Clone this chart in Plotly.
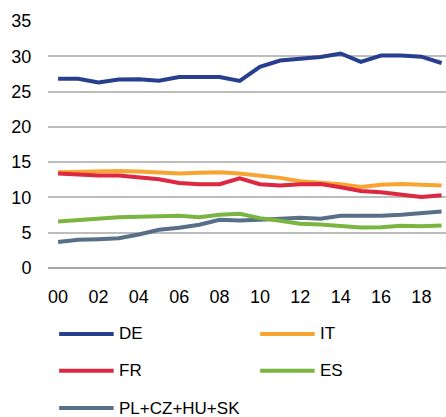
import plotly.graph_objects as go

years = list(range(2000, 2020))
year_labels = [f"{y % 100:02d}" for y in years]
y_ticks = [0, 5, 10, 15, 20, 25, 30, 35]

de = [26.8, 26.8, 26.3, 26.7, 26.75, 26.55, 27.05, 27.05, 27.05, 26.5,
      28.5, 29.4, 29.7, 29.9, 30.4, 29.2, 30.1, 30.1, 29.95, 29.05]
it = [13.57, 13.67, 13.76, 13.76, 13.67, 13.48, 13.38, 13.48, 13.57, 13.38,
      13.1, 12.77, 12.3, 12.15, 11.87, 11.49, 11.8, 11.9, 11.8, 11.68]
fr = [13.38, 13.2, 13.1, 13.1, 12.86, 12.58, 12.05, 11.87, 11.87, 12.72,
      11.87, 11.68, 11.87, 11.9, 11.44, 10.9, 10.73, 10.44, 10.06, 10.3]
es = [6.6, 6.83, 6.98, 7.2, 7.26, 7.4, 7.4, 7.2, 7.55, 7.69,
      7.07, 6.7, 6.26, 6.17, 5.98, 5.74, 5.79, 5.98, 5.9, 6.03]
pl = [3.7, 3.99, 4.08, 4.22, 4.75, 5.41, 5.7, 6.12, 6.83, 6.74,
      6.83, 6.98, 7.12, 6.98, 7.4, 7.4, 7.4, 7.55, 7.78, 8.0]

names = ["DE", "IT", "FR", "ES", "PL+CZ+HU+SK"]
colors = ["#283E8F", "#F7A431", "#DC2841", "#7AB441", "#586F88"]
series = [de, it, fr, es, pl]

FONT = "Liberation Sans, Arial, sans-serif"

fig = go.Figure()

# draw order: PL at bottom, DE on top
for idx in [4, 3, 1, 2, 0]:
    fig.add_trace(go.Scatter(
        x=list(range(len(years))), y=series[idx], mode="lines", name=names[idx],
        line=dict(color=colors[idx], width=4), showlegend=False,
    ))

# legend drawn by hand: two columns, three rows
col_x = [0.028, 0.533]
row_y = [-0.267, -0.416, -0.567]
for i, (name, color) in enumerate(zip(names, colors)):
    cx = col_x[i % 2]
    ry = row_y[i // 2]
    fig.add_shape(type="line", xref="paper", yref="paper",
                  x0=cx, x1=cx + 0.137, y0=ry, y1=ry,
                  line=dict(color=color, width=4))
    fig.add_annotation(xref="paper", yref="paper", x=cx + 0.146, y=ry,
                       text=name, showarrow=False, xanchor="left", yanchor="middle",
                       font=dict(size=17, color="#000000", family=FONT))

fig.update_layout(
    template="none",
    width=446, height=417,
    margin=dict(l=48, r=0, t=21, b=149, autoexpand=False),
    paper_bgcolor="white", plot_bgcolor="white",
    font=dict(family=FONT, size=18, color="#000000"),
    showlegend=False,
    xaxis=dict(
        range=[-0.5, 19.22],
        tickvals=list(range(0, len(years), 2)),
        ticktext=year_labels[::2],
        showgrid=False, zeroline=False, showline=False,
        ticks="outside", ticklen=12, tickcolor="rgba(0,0,0,0)", automargin=False,
    ),
    yaxis=dict(
        range=[0, 35], tickvals=y_ticks,
        showgrid=True, gridcolor="#BDBDBD", gridwidth=2,
        zeroline=True, zerolinecolor="#A8A8A8", zerolinewidth=2,
        showline=False, ticks="outside", ticklen=12, tickcolor="rgba(0,0,0,0)",
        automargin=False,
    ),
)

fig.write_html("out.html", config={"displayModeBar": False},
               post_script="document.body.style.margin='0';")
